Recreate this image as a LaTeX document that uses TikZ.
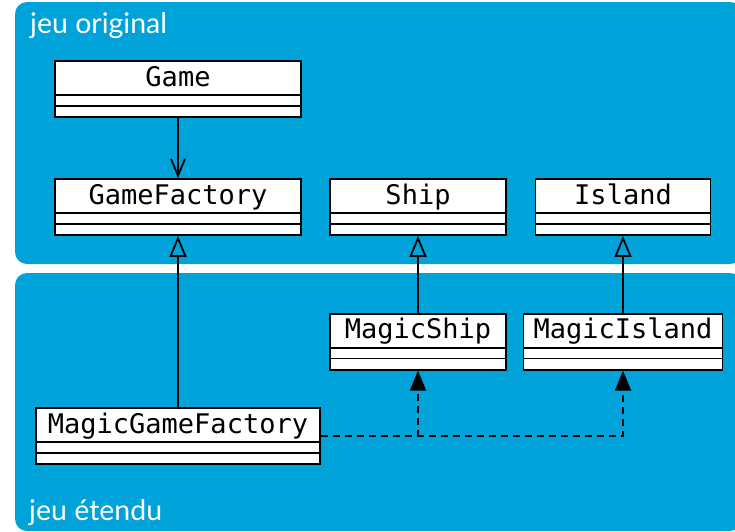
\documentclass[tikz,border=0pt]{standalone}
\usepackage{fontspec}
\setmainfont{Lato}
\newfontfamily\monofont{DejaVu Sans Mono}
\usetikzlibrary{arrows.meta}
\definecolor{jeublue}{RGB}{0,163,217}

\begin{document}
\begin{tikzpicture}[x=1pt, y=-1pt,
        umlclass/.style={draw, line width=1.8pt, fill=white,
            font=\monofont\fontsize{27}{30}\selectfont,
            inner xsep=0pt, inner ysep=0pt, text height=25pt, text depth=31pt,
            minimum width=#1,
            path picture={
                \draw[line width=1.8pt] ([yshift=-34pt]path picture bounding box.north west) -- ([yshift=-34pt]path picture bounding box.north east);
                \draw[line width=1.8pt] ([yshift=-44.8pt]path picture bounding box.north west) -- ([yshift=-44.8pt]path picture bounding box.north east);
            }},
        zone/.style={fill=jeublue, rounded corners=12pt},
        zonelabel/.style={text=white, font=\fontsize{28.5}{32}\selectfont, anchor=base west, inner sep=0pt},
        inherit/.style={line width=1.8pt, -{Triangle[open, width=17pt, length=21pt]}},
        assoc/.style={line width=1.8pt, -{Straight Barb[width=14pt, length=17pt]}},
        depend/.style={line width=1.8pt, dash pattern=on 7pt off 5pt, -{Triangle[width=16pt, length=20pt]}}]

    \useasboundingbox (0,0) rectangle (735,531);

    \fill[zone] (15,2) rectangle (742,264);
    \fill[zone] (15,273) rectangle (742,531);

    \node[zonelabel] (original) at (30,33) {jeu original};
    \node[zonelabel] (etendu) at (29,520) {jeu étendu};

    \node[umlclass=246pt] (game) at (178,89) {Game};
    \node[umlclass=246pt] (gamefactory) at (178,207) {GameFactory};
    \node[umlclass=176pt] (ship) at (418,207) {Ship};
    \node[umlclass=175pt] (island) at (623,207) {Island};

    \node[umlclass=176pt] (magicship) at (418,341.7) {MagicShip};
    \node[umlclass=199pt] (magicisland) at (623,341.7) {MagicIsland};
    \node[umlclass=284pt] (magicgamefactory) at (178,436) {MagicGameFactory};

    \draw[assoc] (game) -- (gamefactory);
    \draw[inherit] (magicgamefactory) -- (gamefactory);
    \draw[inherit] (magicship) -- (ship);
    \draw[inherit] (magicisland) -- (island);

    \draw[depend] (magicgamefactory.east) -| (magicship.south);
    \draw[depend] (magicgamefactory.east) -| (magicisland.south);
\end{tikzpicture}
\end{document}
